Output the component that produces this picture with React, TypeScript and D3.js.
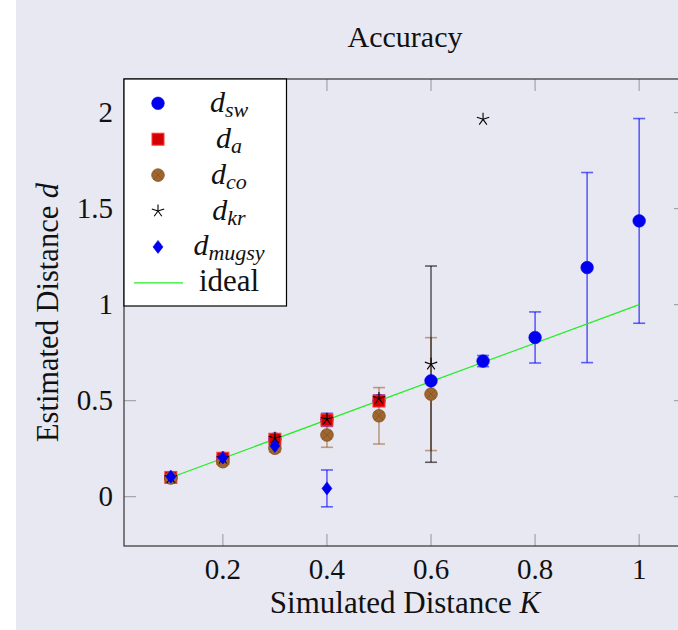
import React from 'react';
import * as d3 from 'd3';

// simulated distance K for each series
const kValues = [0.1, 0.2, 0.3, 0.4, 0.5, 0.6, 0.7, 0.8, 0.9, 1.0];
const swValues = [0.1, 0.2, 0.3, 0.4, 0.5, 0.603, 0.706, 0.829, 1.193, 1.436];
const swErrors = [0.01, 0.01, 0.015, 0.034, 0.029, 0.01, 0.029, 0.133, 0.495, 0.533];

const aK = [0.1, 0.2, 0.3, 0.4, 0.5];
const aValues = [0.1, 0.2, 0.299, 0.399, 0.498];

const coK = [0.1, 0.2, 0.3, 0.4, 0.5, 0.6];
const coValues = [0.097, 0.182, 0.252, 0.321, 0.421, 0.534];
const coErrors = [0.01, 0.015, 0.02, 0.064, 0.147, 0.294];

const krK = [0.1, 0.2, 0.3, 0.4, 0.5, 0.6, 0.7];
const krValues = [0.1, 0.2, 0.304, 0.403, 0.511, 0.69, 1.965];
const krErrors = [0, 0, 0.01, 0.01, 0.015, 0.511, 0];

const mugsyK = [0.1, 0.2, 0.3, 0.4];
const mugsyValues = [0.104, 0.203, 0.264, 0.043];
const mugsyErrors = [0.005, 0.005, 0.01, 0.096];

const idealK = [0.1, 1.0];
const idealValues = [0.1, 1.0];

const xTicks = [0.2, 0.4, 0.6, 0.8, 1];
const yTicks = [0, 0.5, 1, 1.5, 2];

const FONT = '"Liberation Serif", "Times New Roman", serif';
const BG = '#e8e8f3';
const BLUE = '#0000ee';
const RED = '#d60000';
const BROWN = '#a0662f';

const width = 678;
const height = 630;
const plot = { left: 124, right: 686, top: 79, bottom: 546 };

const x = d3.scaleLinear().domain([0.01, 1.09]).range([plot.left, plot.right]);
const y = d3.scaleLinear().domain([-0.257, 2.175]).range([plot.bottom, plot.top]);

const ErrorBars = ({ ks, vals, errs, color }) => (
  <g stroke={color} strokeWidth={1.6} strokeOpacity={0.6}>
    {ks.map((k, i) => {
      if (!errs[i]) return null;
      const cx = x(k);
      const y0 = y(vals[i] - errs[i]);
      const y1 = y(vals[i] + errs[i]);
      return (
        <g key={i}>
          <line x1={cx} x2={cx} y1={y0} y2={y1} />
          <line x1={cx - 6} x2={cx + 6} y1={y0} y2={y0} />
          <line x1={cx - 6} x2={cx + 6} y1={y1} y2={y1} />
        </g>
      );
    })}
  </g>
);

const Circle = ({ cx, cy }) => <circle cx={cx} cy={cy} r={6.3} fill={BLUE} stroke={BLUE} strokeWidth={0.6} />;

const Square = ({ cx, cy }) => (
  <rect x={cx - 6} y={cy - 6} width={12} height={12} fill={RED} stroke="#ff3c3c" strokeWidth={1} />
);

const OTimes = ({ cx, cy }) => {
  const r = 6.3;
  const d = r * Math.SQRT1_2;
  return (
    <g>
      <circle cx={cx} cy={cy} r={r} fill={BROWN} stroke="#80501f" strokeWidth={0.8} />
      <line x1={cx - d} y1={cy - d} x2={cx + d} y2={cy + d} stroke="#7a4b22" strokeWidth={0.6} />
      <line x1={cx - d} y1={cy + d} x2={cx + d} y2={cy - d} stroke="#7a4b22" strokeWidth={0.6} />
    </g>
  );
};

const Star = ({ cx, cy }) => {
  const r = 6.5;
  const angles = d3.range(5).map((i) => -Math.PI / 2 + (i * 2 * Math.PI) / 5);
  return (
    <g stroke="#000" strokeWidth={1.1}>
      {angles.map((a, i) => (
        <line key={i} x1={cx} y1={cy} x2={cx + r * Math.cos(a)} y2={cy + r * Math.sin(a)} />
      ))}
    </g>
  );
};

const Diamond = ({ cx, cy }) => (
  <path
    d={`M${cx},${cy - 6.5}L${cx + 5},${cy}L${cx},${cy + 6.5}L${cx - 5},${cy}Z`}
    fill={BLUE}
    stroke={BLUE}
    strokeWidth={0.6}
  />
);

const legendItems = [
  { sub: 'sw', Mark: Circle },
  { sub: 'a', Mark: Square },
  { sub: 'co', Mark: OTimes },
  { sub: 'kr', Mark: Star },
  { sub: 'mugsy', Mark: Diamond },
];

export default function App() {
  const idealLine = d3
    .line<number>()
    .x((d) => x(d))
    .y((_, i) => y(idealValues[i]));

  const legendX = 158;
  const legendTextX = 229;
  const rowY = (i: number) => 103.3 + i * 35.9;

  return (
    <svg
      width={width}
      height={height}
      style={{ position: 'absolute', left: 0, top: 0, background: '#fff' }}
      fontFamily={FONT}
    >
      <rect x={16} y={0} width={width - 16} height={height} fill={BG} />

      <text x={405} y={47} fontSize={30} textAnchor="middle" fill="#111">
        Accuracy
      </text>

      {/* ticks */}
      <g stroke="#a3a3a8" strokeWidth={1.2}>
        {xTicks.map((t) => (
          <g key={t}>
            <line x1={x(t)} x2={x(t)} y1={plot.bottom} y2={plot.bottom - 12} />
            <line x1={x(t)} x2={x(t)} y1={plot.top} y2={plot.top + 12} />
          </g>
        ))}
        {yTicks.map((t) => (
          <g key={t}>
            <line x1={plot.left} x2={plot.left + 12} y1={y(t)} y2={y(t)} />
            <line x1={plot.right} x2={plot.right - 12} y1={y(t)} y2={y(t)} />
          </g>
        ))}
      </g>

      <rect
        x={plot.left}
        y={plot.top}
        width={plot.right - plot.left}
        height={plot.bottom - plot.top}
        fill="none"
        stroke="#333"
        strokeWidth={1.2}
      />

      {/* tick labels */}
      <g fontSize={29} fill="#111">
        {xTicks.map((t) => (
          <text key={t} x={x(t)} y={579} textAnchor="middle">
            {String(t)}
          </text>
        ))}
        {yTicks.map((t) => (
          <text key={t} x={113} y={y(t) + 9.5} textAnchor="end">
            {String(t)}
          </text>
        ))}
      </g>

      <text x={405} y={613} fontSize={31} textAnchor="middle" fill="#111">
        Simulated Distance <tspan fontStyle="italic">K</tspan>
      </text>
      <text
        transform={`translate(58,312.5) rotate(-90)`}
        fontSize={30.5}
        textAnchor="middle"
        fill="#111"
      >
        Estimated Distance <tspan fontStyle="italic">d</tspan>
      </text>

      {/* error bars */}
      <ErrorBars ks={coK} vals={coValues} errs={coErrors} color={BROWN} />
      <ErrorBars ks={krK} vals={krValues} errs={krErrors} color="#000" />
      <ErrorBars ks={kValues} vals={swValues} errs={swErrors} color="#0000ff" />
      <ErrorBars ks={mugsyK} vals={mugsyValues} errs={mugsyErrors} color="#0000ff" />

      <path d={idealLine(idealK) || ''} fill="none" stroke="#22ee22" strokeWidth={1.2} />

      {kValues.map((k, i) => (
        <Circle key={'sw' + i} cx={x(k)} cy={y(swValues[i])} />
      ))}
      {aK.map((k, i) => (
        <Square key={'a' + i} cx={x(k)} cy={y(aValues[i])} />
      ))}
      {coK.map((k, i) => (
        <OTimes key={'co' + i} cx={x(k)} cy={y(coValues[i])} />
      ))}
      {krK.map((k, i) => (
        <Star key={'kr' + i} cx={x(k)} cy={y(krValues[i])} />
      ))}
      {mugsyK.map((k, i) => (
        <Diamond key={'mu' + i} cx={x(k)} cy={y(mugsyValues[i])} />
      ))}

      {/* legend */}
      <rect x={124} y={79} width={162.5} height={227} fill="#fff" stroke="#000" strokeWidth={1.2} />
      {legendItems.map(({ sub, Mark }, i) => (
        <g key={sub}>
          <Mark cx={legendX} cy={rowY(i)} />
          <text x={legendTextX} y={rowY(i) + 8.5} fontSize={30} textAnchor="middle" fontStyle="italic" fill="#111">
            d
            <tspan fontSize={22} dy={5}>
              {sub}
            </tspan>
          </text>
        </g>
      ))}
      <line x1={134} x2={183} y1={rowY(5)} y2={rowY(5)} stroke="#22ee22" strokeWidth={1.2} />
      <text x={legendTextX} y={rowY(5) + 8} fontSize={31} textAnchor="middle" fill="#111">
        ideal
      </text>
    </svg>
  );
}
